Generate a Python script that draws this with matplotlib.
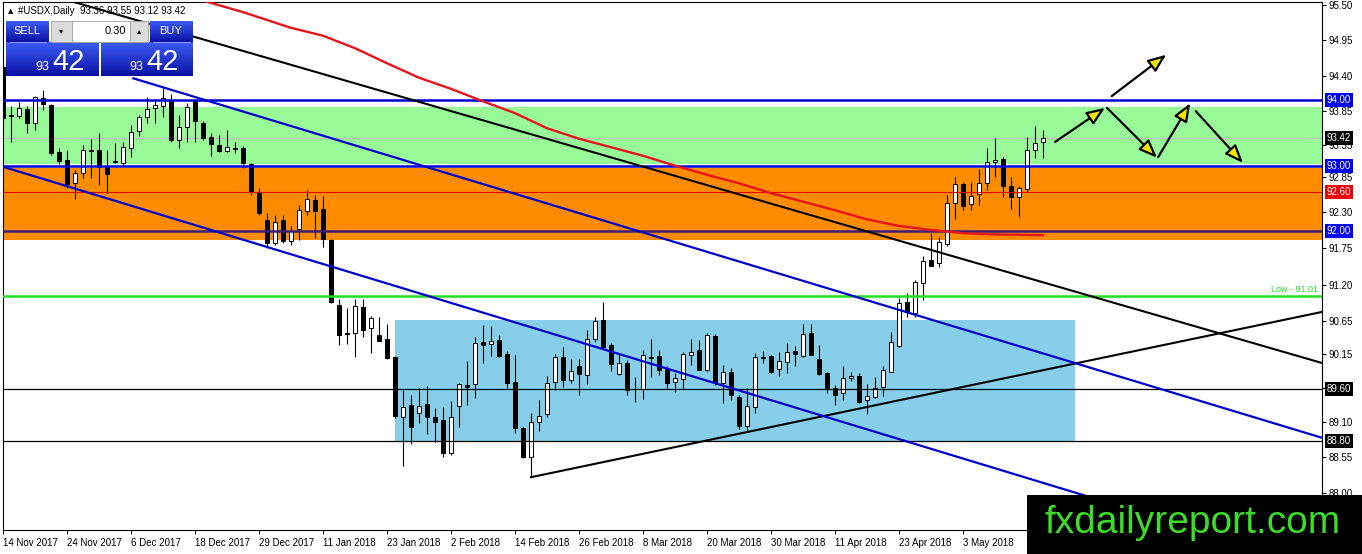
import numpy as np
import matplotlib.pyplot as plt
from matplotlib.patches import Rectangle
from matplotlib.colors import LinearSegmentedColormap

plt.rcParams['font.family'] = ['Liberation Sans', 'DejaVu Sans']

# daily candles, USDX, 14 Nov 2017 .. 17 May 2018
opens = [94.50, 93.77, 93.76, 93.86, 93.65, 94.03, 93.92, 93.21, 93.09, 92.73,
         92.89, 93.24, 93.24, 92.98, 93.07, 93.04, 93.27, 93.53, 93.74, 93.88,
         93.91, 94.00, 93.39, 93.59, 94.00, 93.65, 93.44, 93.31, 93.22, 93.27,
         93.27, 93.02, 92.60, 92.17, 91.82, 92.17, 91.85, 92.03, 92.31, 92.48,
         92.34, 91.87, 90.87, 90.45, 90.45, 90.84, 90.52, 90.42, 90.36, 90.08,
         89.17, 89.35, 89.23, 89.37, 89.17, 89.12, 88.62, 89.34, 89.66, 89.67,
         90.31, 90.28, 90.34, 90.13, 89.70, 89.00, 88.56, 89.09, 89.21, 89.70,
         90.08, 89.73, 89.95, 89.81, 90.36, 90.65, 90.27, 89.82, 89.99, 89.59,
         89.59, 90.08, 90.10, 89.90, 89.70, 89.75, 90.11, 90.19, 89.88, 90.40,
         89.69, 89.85, 89.47, 89.03, 89.32, 90.08, 90.10, 89.90, 90.01, 90.17,
         90.10, 90.45, 90.05, 89.84, 89.61, 89.53, 89.76, 89.79, 89.43, 89.47,
         89.62, 89.85, 90.25, 90.92, 90.75, 91.21, 91.56, 91.52, 91.81, 92.43,
         92.72, 92.41, 92.57, 92.73, 93.05, 93.10, 92.69, 92.52, 92.64, 93.24,
         93.36]
highs = [94.58, 93.91, 93.97, 93.91, 94.06, 94.15, 93.94, 93.27, 93.24, 92.93,
         93.31, 93.41, 93.50, 93.24, 93.34, 93.36, 93.62, 93.77, 94.05, 94.02,
         94.18, 94.09, 93.77, 93.95, 94.02, 93.68, 93.50, 93.47, 93.54, 93.36,
         93.30, 93.04, 92.66, 92.28, 92.25, 92.25, 92.08, 92.40, 92.63, 92.55,
         92.54, 91.88, 90.97, 90.83, 90.97, 90.97, 90.71, 90.69, 90.59, 90.10,
         89.58, 89.50, 89.61, 89.64, 89.30, 89.32, 89.41, 89.69, 90.02, 90.39,
         90.57, 90.55, 90.42, 90.17, 90.11, 89.02, 89.23, 89.43, 89.79, 90.13,
         90.23, 90.05, 90.05, 90.49, 90.69, 90.92, 90.30, 90.14, 90.04, 89.78,
         90.19, 90.36, 90.19, 89.95, 89.84, 90.16, 90.36, 90.34, 90.45, 90.43,
         89.96, 89.91, 89.50, 89.61, 90.14, 90.17, 90.11, 90.16, 90.30, 90.25,
         90.59, 90.59, 90.27, 89.85, 89.66, 89.95, 89.85, 89.84, 89.67, 89.78,
         89.95, 90.46, 90.98, 91.06, 91.26, 91.62, 91.97, 91.91, 92.55, 92.83,
         92.75, 92.75, 92.95, 93.27, 93.42, 93.13, 92.83, 92.69, 93.44, 93.60,
         93.55]
lows = [93.70, 93.36, 93.73, 93.50, 93.54, 93.85, 93.16, 93.02, 92.66, 92.49,
        92.81, 92.81, 92.70, 92.58, 93.04, 93.01, 93.13, 93.45, 93.65, 93.65,
        93.74, 93.36, 93.27, 93.36, 93.36, 93.39, 93.15, 93.21, 93.21, 93.19,
        92.96, 92.55, 92.25, 91.74, 91.79, 91.82, 91.79, 91.87, 92.25, 91.90,
        91.76, 90.91, 90.27, 90.28, 90.08, 90.39, 90.14, 90.32, 90.05, 89.15,
        88.42, 88.76, 89.08, 88.91, 88.79, 88.56, 88.59, 89.02, 89.35, 89.46,
        89.99, 90.10, 90.08, 89.61, 88.92, 88.54, 88.25, 88.95, 89.17, 89.58,
        89.62, 89.69, 89.50, 89.67, 90.31, 90.22, 89.87, 89.81, 89.50, 89.40,
        89.44, 89.78, 89.81, 89.59, 89.55, 89.59, 89.96, 89.88, 89.85, 89.66,
        89.38, 89.43, 88.98, 88.94, 89.23, 89.99, 89.84, 89.79, 89.84, 89.95,
        90.08, 90.11, 89.81, 89.53, 89.35, 89.43, 89.72, 89.38, 89.21, 89.46,
        89.49, 89.85, 90.23, 90.69, 90.69, 90.95, 91.47, 91.45, 91.77, 92.19,
        92.32, 92.32, 92.40, 92.63, 92.83, 92.52, 92.34, 92.22, 92.60, 93.12,
        93.12]
closes = [93.73, 93.76, 93.88, 93.65, 94.05, 93.94, 93.19, 93.07, 92.72, 92.89,
          93.24, 93.23, 92.98, 92.87, 93.06, 93.28, 93.51, 93.74, 93.86, 93.92,
          94.03, 93.39, 93.59, 93.89, 93.68, 93.42, 93.33, 93.22, 93.28, 93.26,
          93.04, 92.60, 92.28, 91.82, 92.14, 91.85, 92.00, 92.32, 92.49, 92.31,
          91.88, 90.92, 90.42, 90.44, 90.86, 90.49, 90.68, 90.33, 90.07, 89.18,
          89.32, 89.02, 89.34, 89.17, 89.09, 88.62, 89.17, 89.67, 89.62, 90.30,
          90.27, 90.33, 90.10, 89.69, 89.00, 88.56, 89.09, 89.18, 89.69, 90.08,
          89.73, 89.87, 89.82, 90.36, 90.63, 90.23, 89.98, 89.99, 89.58, 89.59,
          90.11, 90.07, 89.88, 89.69, 89.76, 90.13, 90.16, 89.88, 90.42, 89.70,
          89.85, 89.50, 89.03, 89.34, 90.08, 90.07, 89.85, 90.02, 90.16, 90.13,
          90.43, 90.11, 89.82, 89.59, 89.50, 89.76, 89.79, 89.40, 89.49, 89.61,
          89.88, 90.31, 90.91, 90.77, 91.23, 91.55, 91.47, 91.83, 92.43, 92.72,
          92.38, 92.54, 92.73, 93.05, 93.09, 92.69, 92.52, 92.66, 93.24, 93.34,
          93.42]

date_labels = ["14 Nov 2017", "24 Nov 2017", "6 Dec 2017", "18 Dec 2017", "29 Dec 2017",
               "11 Jan 2018", "23 Jan 2018", "2 Feb 2018", "14 Feb 2018", "26 Feb 2018",
               "8 Mar 2018", "20 Mar 2018", "30 Mar 2018", "11 Apr 2018", "23 Apr 2018",
               "3 May 2018"]
date_bars = list(range(0, 121, 8))

tick_prices = [95.45, 94.91, 94.37, 93.83, 93.31, 92.83, 92.29, 91.74,
               91.18, 90.63, 90.13, 89.61, 89.09, 88.56, 88.01]
tick_labels = ["95.50", "94.95", "94.40", "93.85", "93.35", "92.85", "92.30", "91.75",
               "91.20", "90.65", "90.15", "89.60", "89.10", "88.55", "88.00"]

# moving average (red)
ma_bars = [24, 30, 36, 40, 44, 48, 52, 56, 60, 64, 68, 72, 76, 80, 84, 88, 92,
           96, 100, 104, 108, 112, 116, 120, 124, 130]
ma_vals = [95.55, 95.34, 95.10, 94.98, 94.79, 94.56, 94.34, 94.17, 93.98, 93.80,
           93.57, 93.41, 93.28, 93.15, 93.00, 92.86, 92.73, 92.58, 92.45, 92.32,
           92.18, 92.08, 92.02, 91.97, 91.95, 91.94]

# trend lines
black_down_bars = [5, 164.9]
black_down_prices = [95.63, 89.99]
blue_upper_bars = [16.3, 164.9]
blue_upper_prices = [94.33, 88.85]
blue_lower_bars = [-1, 164.9]
blue_lower_prices = [93.02, 86.87]
black_up_bars = [66, 164.9]
black_up_prices = [88.25, 90.77]

# zones
green_zone = (93.03, 93.90)
orange_zone = (91.87, 92.97)
box_bars = (49.0, 134.0)
box_prices = (88.80, 90.65)

low_level = 91.01
bid = closes[-1]

# forecast arrows (bar, price)
arrow_from = [(131.5, 93.36), (138.0, 93.88), (144.4, 93.13), (149.1, 93.83), (138.6, 94.06)]
arrow_to = [(137.75, 93.88), (144.25, 93.12), (148.4, 93.95), (155.0, 93.04), (145.4, 94.69)]

W, H = 1362.0, 554.0
fig = plt.figure(figsize=(W / 100, H / 100), dpi=100)
ax = fig.add_axes([2.5 / W, 24 / H, 1319.5 / W, 528 / H])
ax.set_xlim(-0.06, 164.875)
ax.set_ylim(87.445, 95.494)

ax.axhspan(green_zone[0], green_zone[1], color='#98fb98', lw=0, zorder=1)
ax.axhspan(orange_zone[0], orange_zone[1], color='#ff8c00', lw=0, zorder=1)
ax.add_patch(Rectangle((box_bars[0], box_prices[0]), box_bars[1] - box_bars[0],
                       box_prices[1] - box_prices[0], fc='#87ceeb', lw=0, zorder=1))

ax.axhline(bid, color='#c0c0c0', lw=0.8, zorder=2)
ax.axhline(92.60, color='#e00000', lw=0.8, zorder=5)
ax.axhline(94.00, color='#0000d0', lw=1.8, zorder=5)
ax.axhline(93.00, color='#0000d0', lw=1.8, zorder=5)
ax.axhline(92.00, color='#3c1e78', lw=1.8, zorder=5)
ax.axhline(low_level, color='#22dd22', lw=1.8, zorder=5)
ax.axhline(89.60, color='black', lw=0.9, zorder=5)
ax.axhline(88.80, color='black', lw=0.9, zorder=5)

# candles
x = np.arange(len(opens))
o = np.array(opens)
c = np.array(closes)
up = c >= o
ax.vlines(x, lows, highs, color='black', lw=0.8, zorder=3)
body = np.maximum(np.abs(c - o), 0.004)
ax.bar(x, body, bottom=np.minimum(o, c), width=0.6,
       color=np.where(up, 'white', 'black'), edgecolor='black', linewidth=0.7, zorder=4)

ax.plot(ma_bars, ma_vals, color='#e8141c', lw=1.7, zorder=6)
ax.plot(black_down_bars, black_down_prices, color='black', lw=1.5, zorder=6)
ax.plot(black_up_bars, black_up_prices, color='black', lw=1.5, zorder=6)
ax.plot(blue_upper_bars, blue_upper_prices, color='#0000cc', lw=1.6, zorder=6)
ax.plot(blue_lower_bars, blue_lower_prices, color='#0000cc', lw=1.6, zorder=6)

for (x0, y0), (x1, y1) in zip(arrow_from, arrow_to):
    ax.annotate('', xy=(x1, y1), xytext=(x0, y0), zorder=7,
                arrowprops=dict(arrowstyle='-|>,head_length=0.55,head_width=0.22',
                                mutation_scale=20, lw=1.6, ec='black', fc='#f2e600',
                                shrinkA=0, shrinkB=0))

ax.text(164.4, low_level + 0.04, 'Low - %.2f' % low_level, ha='right', va='bottom',
        color='#22dd22', fontsize=6.5, zorder=7)

# axes
for s in ax.spines.values():
    s.set_linewidth(0.8)
ax.yaxis.tick_right()
ax.set_yticks(tick_prices)
ax.set_yticklabels(tick_labels)
ax.tick_params(axis='y', direction='out', length=3, width=0.8, labelsize=7, pad=2)
ax.set_xticks(date_bars)
ax.set_xticklabels(date_labels)
for lab in ax.get_xticklabels():
    lab.set_ha('left')
ax.tick_params(axis='x', direction='out', length=3, width=0.8, labelsize=7, pad=2.5)

ytr = ax.get_yaxis_transform()
for price, col in [(94.00, '#0000f0'), (93.00, '#0000f0'), (92.00, '#0000f0'),
                   (92.60, '#f00000'), (bid, 'black'), (89.60, 'black'), (88.80, 'black')]:
    ax.text(1.0035, price, '%.2f' % price, transform=ytr, va='center', ha='left',
            fontsize=7, color='white', clip_on=False, zorder=10,
            bbox=dict(boxstyle='square,pad=0.2', fc=col, ec='none'))

# overlay: title, trade panel, watermark (pixel coords)
ov = fig.add_axes([0, 0, 1, 1], zorder=10)
ov.patch.set_alpha(0)
ov.axis('off')

ov.text(8, 11, '▲', fontsize=5, va='center', family='DejaVu Sans')
ov.text(18, 11, '#USDX,Daily  %.2f %.2f %.2f %.2f' % (opens[-1], highs[-1], lows[-1], closes[-1]),
        fontsize=7, va='center')

cmap = LinearSegmentedColormap.from_list('mt4', ['#3b5cf5', '#0a10a4'])
grad = np.linspace(0, 1, 64).reshape(-1, 1)


def blue_box(x0, y0, x1, y1):
    ov.imshow(grad, extent=(x0, x1, y1, y0), cmap=cmap, aspect='auto', zorder=11)


blue_box(6, 21, 49, 42)
blue_box(150, 21, 193, 42)
blue_box(6, 42, 99, 76)
blue_box(101, 42, 193, 76)
ov.add_patch(Rectangle((51, 21), 21, 21, fc='#dcdcdc', ec='#a0a0a0', lw=0.6, zorder=11))
ov.add_patch(Rectangle((72, 21), 58, 21, fc='white', ec='#a0a0a0', lw=0.6, zorder=11))
ov.add_patch(Rectangle((130, 21), 18, 21, fc='#dcdcdc', ec='#a0a0a0', lw=0.6, zorder=11))
ov.plot([10, 46], [42, 42], color='#8f9cff', lw=0.7, zorder=12)
ov.plot([153, 190], [42, 42], color='#8f9cff', lw=0.7, zorder=12)
ov.text(61, 31, '▾', fontsize=6, ha='center', va='center', family='DejaVu Sans', zorder=12)
ov.text(139, 31, '▴', fontsize=6, ha='center', va='center', family='DejaVu Sans', zorder=12)
ov.text(126, 31, '0.30', fontsize=8, ha='right', va='center', zorder=12)
ov.text(27, 31, 'SELL', fontsize=8, color='white', ha='center', va='center', zorder=12)
ov.text(171, 31, 'BUY', fontsize=8, color='white', ha='center', va='center', zorder=12)
price_big = '%.2f' % bid
ov.text(49, 70, price_big[:2], fontsize=9, color='white', ha='right', va='baseline', zorder=12)
ov.text(52, 70, price_big[3:], fontsize=21, color='white', ha='left', va='baseline', zorder=12)
ov.text(143, 70, price_big[:2], fontsize=9, color='white', ha='right', va='baseline', zorder=12)
ov.text(146, 70, price_big[3:], fontsize=21, color='white', ha='left', va='baseline', zorder=12)

ov.add_patch(Rectangle((1027, 495), W - 1027, H - 495, fc='black', lw=0, zorder=11))
ov.text(1193, 533, 'fxdailyreport.com', fontsize=28, color='#3cdc28', ha='center',
        va='baseline', zorder=12)

ov.set_xlim(0, W)
ov.set_ylim(H, 0)

fig.savefig('out.png', dpi=100)
